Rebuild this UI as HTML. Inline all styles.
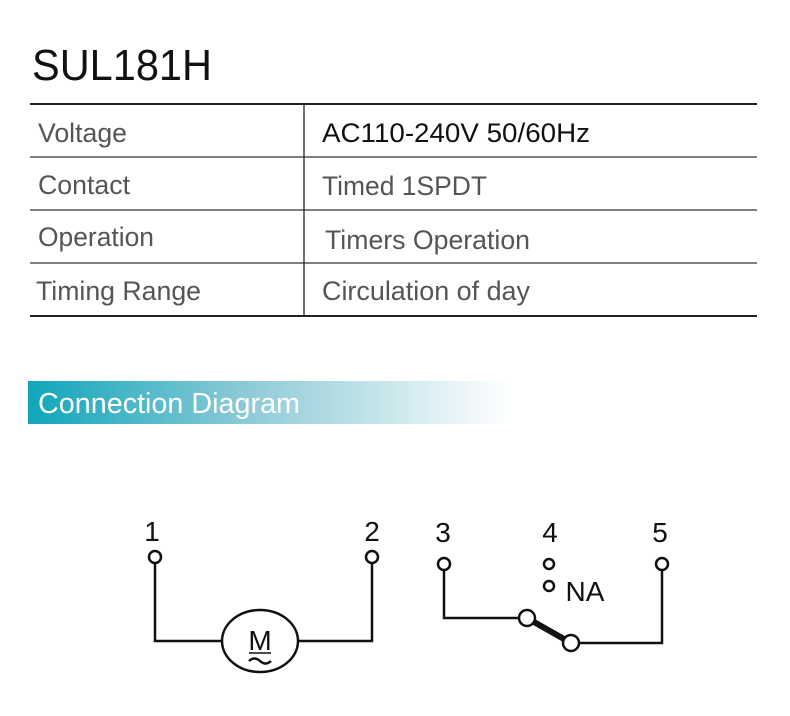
<!DOCTYPE html>
<html><head><style>body{margin:0;background:#fff}svg{display:block}</style></head>
<body>
<svg width="790" height="716" viewBox="0 0 790 716" xmlns="http://www.w3.org/2000/svg" font-family="Liberation Sans, sans-serif">
<defs>
<linearGradient id="g" x1="0" x2="1" y1="0" y2="0">
<stop offset="0" stop-color="#0fa6ba"/>
<stop offset="0.45" stop-color="#8ccad6"/>
<stop offset="1" stop-color="#ffffff"/>
</linearGradient>
</defs>
<text x="32" y="80" font-size="44" fill="#111" textLength="180" lengthAdjust="spacingAndGlyphs">SUL181H</text>
<line x1="30" y1="104" x2="757" y2="104" stroke="#222" stroke-width="2"/>
<line x1="30" y1="157" x2="757" y2="157" stroke="#333" stroke-width="1.3"/>
<line x1="30" y1="210" x2="757" y2="210" stroke="#333" stroke-width="1.3"/>
<line x1="30" y1="263" x2="757" y2="263" stroke="#333" stroke-width="1.3"/>
<line x1="30" y1="316" x2="757" y2="316" stroke="#222" stroke-width="2"/>
<line x1="304" y1="104" x2="304" y2="316" stroke="#222" stroke-width="1.3"/>
<g font-size="27" fill="#555">
<text x="38" y="142" textLength="89" lengthAdjust="spacingAndGlyphs">Voltage</text>
<text x="38" y="194" textLength="92" lengthAdjust="spacingAndGlyphs">Contact</text>
<text x="38" y="246" textLength="116" lengthAdjust="spacingAndGlyphs">Operation</text>
<text x="36" y="300" textLength="165" lengthAdjust="spacingAndGlyphs">Timing Range</text>
<text x="322" y="142" fill="#111" textLength="268" lengthAdjust="spacingAndGlyphs">AC110-240V  50/60Hz</text>
<text x="322" y="195" textLength="165" lengthAdjust="spacingAndGlyphs">Timed 1SPDT</text>
<text x="325" y="249" textLength="205" lengthAdjust="spacingAndGlyphs">Timers Operation</text>
<text x="322" y="300" textLength="208" lengthAdjust="spacingAndGlyphs">Circulation of day</text>
</g>
<rect x="28" y="381" width="482" height="43" fill="url(#g)"/>
<text x="38" y="413" font-size="29" fill="#fff" textLength="262" lengthAdjust="spacingAndGlyphs">Connection Diagram</text>
<g stroke="#111" stroke-width="2.5" fill="none">
<polyline points="155,563 155,641 222,641"/>
<polyline points="298,641 372,641 372,563"/>
<ellipse cx="260" cy="641" rx="38" ry="31" fill="#fff"/>
<polyline points="444,570 444,618 519,618"/>
<polyline points="579,643 662,643 662,570"/>
<line x1="527" y1="618" x2="571" y2="643" stroke-width="6"/>
</g>
<g stroke="#111" stroke-width="2.5" fill="#fff">
<circle cx="155" cy="557" r="6"/>
<circle cx="372" cy="557" r="6"/>
<circle cx="444" cy="564" r="6"/>
<circle cx="662" cy="564" r="6"/>
<circle cx="549" cy="564" r="5"/>
<circle cx="549" cy="586" r="5"/>
<circle cx="527" cy="618" r="8"/>
<circle cx="571" cy="643" r="8"/>
</g>
<g font-size="28" fill="#111" text-anchor="middle">
<text x="152" y="541">1</text>
<text x="372" y="541">2</text>
<text x="443" y="542">3</text>
<text x="550" y="542">4</text>
<text x="660" y="542">5</text>
<text x="585" y="601">NA</text>
<text x="260" y="650">M</text>
</g>
<path d="M249 661 q5.5 -5 11 0 t11 0" stroke="#111" stroke-width="2.5" fill="none"/>
<line x1="249" y1="653" x2="271" y2="653" stroke="#111" stroke-width="1.5"/>
</svg>
</body></html>
